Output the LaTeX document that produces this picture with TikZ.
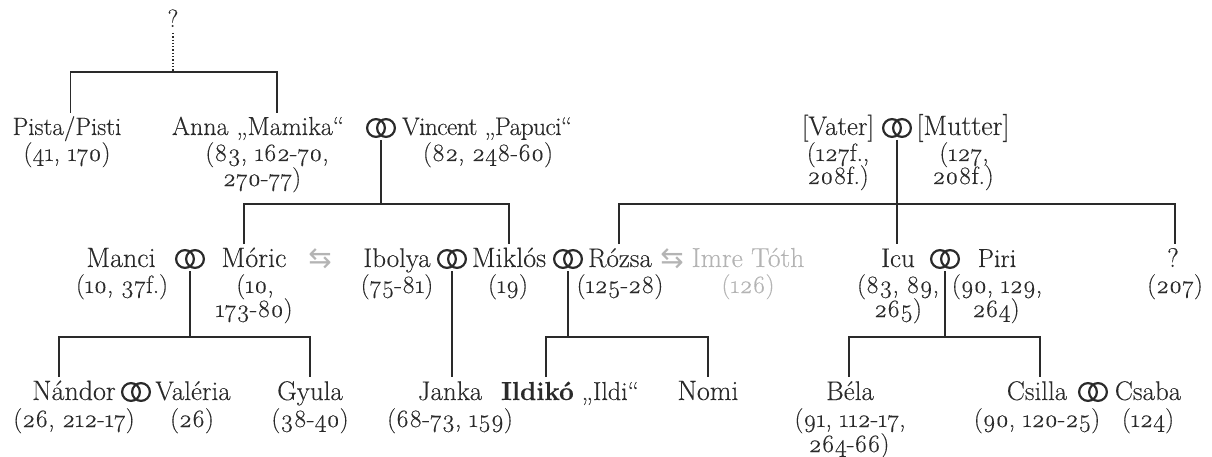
\documentclass[tikz,border=0pt]{standalone}
\usepackage{fontspec}
\setmainfont{Latin Modern Roman}[Numbers=OldStyle,FakeBold=0.25]
\newfontfamily\symfont{DejaVu Sans}
\definecolor{ink}{HTML}{2A2A2A}
\definecolor{faded}{HTML}{B4B4B4}
\newcommand\fs[1]{\fontsize{#1}{#1}\selectfont}
\tikzset{
  lbl/.style={anchor=base,inner sep=0pt,outer sep=0pt,text=ink,font=\fs{25}},
  namelbl/.style={lbl,font=\fs{27}},
  fadedlbl/.style={lbl,text=faded},
  ringnode/.style={inner sep=0pt,outer sep=0pt,minimum width=36pt,minimum height=24pt,
    path picture={
      \draw[ink,line width=2.2pt] ([xshift=-5pt]path picture bounding box.center) circle (8.9pt);
      \draw[ink,line width=2.2pt] ([xshift=5pt]path picture bounding box.center) circle (8.9pt);}},
  swapglyph/.style={inner sep=0pt,outer sep=0pt,text=faded,font=\symfont\fs{28}},
  rel/.style={draw=ink,line width=1.3pt,line cap=butt},
}
\begin{document}
\begin{tikzpicture}[x=1pt,y=-1pt]
\useasboundingbox (0,0) rectangle (1212,457);
% row 0
\node[lbl] (top) at (173,27) {?};
\coordinate (topfoot) at (173,33);
\coordinate (jA) at (173,72);
% row 1 left
\node[namelbl,font=\fs{25}] (pista) at (67,135) {Pista/Pisti};
\node[lbl] (pistaR) at (67,161) {(41, 170)};
\node[namelbl,font=\fs{26}] (anna) at (258,135) {Anna „Mamika“};
\node[lbl] (annaR) at (267,161) {(83, 162-70,};
\node[lbl] (annaS) at (262,186) {270-77)};
\node[ringnode] (rAV) at (381,128) {};
\node[namelbl,font=\fs{25.5}\addfontfeature{LetterSpace=-2.5}] (vincent) at (487,135) {Vincent „Papuci“};
\node[lbl] (vincentR) at (488,161) {(82, 248-60)};
% row 1 right
\node[namelbl] (vater) at (838,135) {[Vater]};
\node[lbl] (vaterR) at (838,161) {(127f.,};
\node[lbl] (vaterS) at (838,184) {208f.)};
\node[ringnode] (rVM) at (897,128) {};
\node[namelbl,font=\fs{28}] (mutter) at (963,135) {[Mutter]};
\node[lbl] (mutterR) at (964,161) {(127,};
\node[lbl] (mutterS) at (963,184) {208f.)};
% row 2
\node[namelbl,font=\fs{28}] (manci) at (121,267) {Manci};
\node[lbl] (manciR) at (122,293) {(10, 37f.)};
\node[ringnode] (rMM) at (190,259) {};
\node[namelbl,font=\fs{28}] (moric) at (254,267) {Móric};
\node[lbl] (moricR) at (255,293) {(10,};
\node[lbl] (moricS) at (254,317) {173-80)};
\node[swapglyph] (swapA) at (320,259) {⇆};
\node[namelbl] (ibolya) at (397,267) {Ibolya};
\node[lbl] (ibolyaR) at (397,293) {(75-81)};
\node[ringnode] (rIM) at (452,259) {};
\node[namelbl,font=\fs{28}] (miklos) at (509,267) {Miklós};
\node[lbl] (miklosR) at (508,293) {(19)};
\node[ringnode] (rMR) at (568,259) {};
\node[namelbl] (rozsa) at (620,267) {Rózsa};
\node[lbl] (rozsaR) at (620,293) {(125-28)};
\node[swapglyph] (swapB) at (672,259) {⇆};
\node[fadedlbl,font=\fs{27.5}] (imre) at (748,267) {Imre Tóth};
\node[fadedlbl] (imreR) at (748,293) {(126)};
\node[namelbl] (icu) at (898,267) {Icu};
\node[lbl] (icuR) at (898,293) {(83, 89,};
\node[lbl] (icuS) at (898,317) {265)};
\node[ringnode] (rIP) at (945,259) {};
\node[namelbl,font=\fs{26}] (piri) at (997,267) {Piri};
\node[lbl] (piriR) at (997,293) {(90, 129,};
\node[lbl] (piriS) at (996,317) {264)};
\node[namelbl] (unk) at (1173,267) {?};
\node[lbl] (unkR) at (1175,293) {(207)};
% row 3
\node[namelbl,font=\fs{28}] (nandor) at (74,400) {Nándor};
\node[lbl] (nandorR) at (74,427) {(26, 212-17)};
\node[ringnode] (rNV) at (136,392) {};
\node[namelbl] (valeria) at (193,400) {Valéria};
\node[lbl] (valeriaR) at (192,427) {(26)};
\node[namelbl] (gyula) at (310,400) {Gyula};
\node[lbl] (gyulaR) at (310,427) {(38-40)};
\node[namelbl] (janka) at (450,400) {Janka};
\node[lbl] (jankaR) at (450,427) {(68-73, 159)};
\node[namelbl,font=\fs{26}] (ildiko) at (570,400) {\textbf{Ildikó} „Ildi“};
\node[namelbl,font=\fs{28}] (nomi) at (708,400) {Nomi};
\node[namelbl] (bela) at (850,400) {Béla};
\node[lbl] (belaR) at (850,427) {(91, 112-17,};
\node[lbl] (belaS) at (849,452) {264-66)};
\node[namelbl] (csilla) at (1037,400) {Csilla};
\node[lbl] (csillaR) at (1037,427) {(90, 120-25)};
\node[ringnode] (rCC) at (1093,392) {};
\node[namelbl] (csaba) at (1148,400) {Csaba};
\node[lbl] (csabaR) at (1148,427) {(124)};
% junction and drop points
\coordinate (dPista) at (70.5,113);
\coordinate (dAnna) at (277,113);
\coordinate (jB) at (381,204);
\coordinate (dMoric) at (244,244);
\coordinate (dMiklos) at (509,244);
\coordinate (jC) at (897,204);
\coordinate (dRozsa) at (619,244);
\coordinate (dIcu) at (897,244);
\coordinate (dUnk) at (1175,244);
\coordinate (jD) at (190,337);
\coordinate (dNandor) at (59,377);
\coordinate (dGyula) at (310,377);
\coordinate (dJanka) at (452,377);
\coordinate (jE) at (568,337);
\coordinate (dIldi) at (546,377);
\coordinate (dNomi) at (708,377);
\coordinate (jF) at (945,337);
\coordinate (dBela) at (849,377);
\coordinate (dCsilla) at (1040,377);
% connectors
\draw[rel,dotted] (topfoot) -- (jA);
\draw[rel] (dPista) |- (jA) -| (dAnna);
\draw[rel] (rAV.south) -- (jB);
\draw[rel] (dMoric) |- (jB) -| (dMiklos);
\draw[rel] (rVM.south) -- (dIcu);
\draw[rel] (dRozsa) |- (jC) -| (dUnk);
\draw[rel] (rMM.south) -- (jD);
\draw[rel] (dNandor) |- (jD) -| (dGyula);
\draw[rel] (rIM.south) -- (dJanka);
\draw[rel] (rMR.south) -- (jE);
\draw[rel] (dIldi) |- (jE) -| (dNomi);
\draw[rel] (rIP.south) -- (jF);
\draw[rel] (dBela) |- (jF) -| (dCsilla);
\end{tikzpicture}
\end{document}
